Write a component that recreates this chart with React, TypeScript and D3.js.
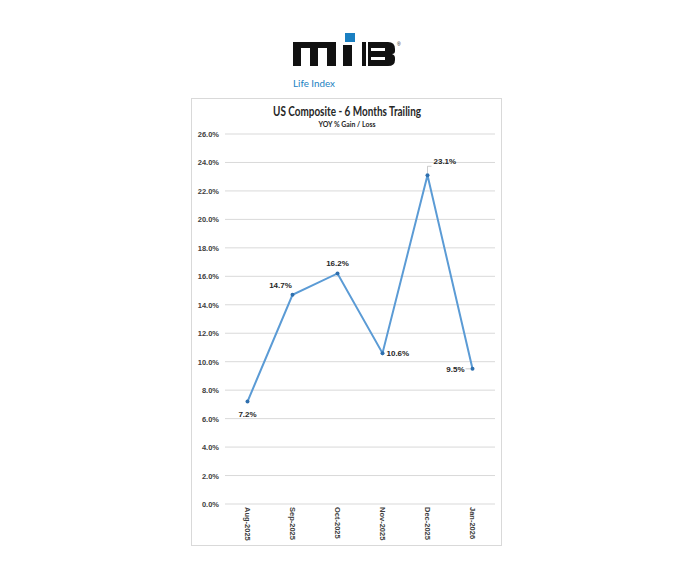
import * as d3 from 'd3';
import React from 'react';

const months = ['Aug-2025', 'Sep-2025', 'Oct-2025', 'Nov-2025', 'Dec-2025', 'Jan-2026'];
const yoyValues = [7.2, 14.7, 16.2, 10.6, 23.1, 9.5];
const yTicks = [0, 2, 4, 6, 8, 10, 12, 14, 16, 18, 20, 22, 24, 26];
// where each data label sits relative to its point
const labelSpots = ['below', 'aboveLeft', 'above', 'right', 'aboveRight', 'left'];

const W = 680;
const H = 582;
const plot = { left: 225, right: 495, top: 134, bottom: 504 };

const LINE_BLUE = '#5b9bd5';
const DOT_BLUE = '#2e6fae';
const GRID = '#d9d9d9';

const Logo = () => (
	<g>
		{/* m */}
		<rect x={293} y={42} width={43} height={6} fill="#111" />
		<rect x={293} y={42} width={8} height={24} fill="#111" />
		<rect x={310} y={45} width={8} height={21} fill="#111" />
		<rect x={327} y={42} width={9} height={24} fill="#111" />
		<rect x={301} y={48} width={4} height={2} fill="#fff" />
		{/* I with blue square */}
		<rect x={343} y={45} width={9} height={21} fill="#111" />
		<rect x={345} y={33} width={10} height={9} fill="#1a7fc1" />
		{/* B */}
		<path
			d="M362,42 H388 Q395,42 395,49 V51 Q395,54 392,54 Q395,55 395,58 V60 Q395,66 388,66 H362 Z"
			fill="#111"
		/>
		<rect x={371} y={48} width={14} height={3} fill="#fff" />
		<rect x={371} y={57} width={14} height={3} fill="#fff" />
		<rect x={366} y={42} width={2} height={24} fill="#fff" />
		<text x={397} y={46} fontSize={5} fill="#111" fontFamily="Liberation Sans">®</text>
		<text x={293} y={87} fontSize={10} fill="#1a7fc1" fontFamily="Lato" textLength={42} lengthAdjust="spacingAndGlyphs">Life Index</text>
	</g>
);

const App = () => {
	const x = d3.scaleBand<string>()
		.domain(months)
		.range([plot.left, plot.right]);

	const y = d3.scaleLinear()
		.domain([0, 26])
		.range([plot.bottom, plot.top]);

	const cx = (m: string) => (x(m) ?? 0) + x.bandwidth() / 2;

	const line = d3.line<number>()
		.x((_, i) => cx(months[i]))
		.y((v) => y(v));

	const fmt = d3.format('.1f');

	return (
		<svg
			width={W}
			height={H}
			style={{ position: 'absolute', left: 0, top: 0, background: '#fff' }}
		>
			<rect x={0} y={0} width={W} height={H} fill="#fff" />
			<Logo />

			<rect x={191.5} y={98.5} width={310} height={447} fill="#fff" stroke={GRID} />

			<text x={347} y={116} textAnchor="middle" fontFamily="Lato" fontWeight="bold" fontSize={12.5} fill="#262626"
				textLength={148} lengthAdjust="spacingAndGlyphs">
				US Composite - 6 Months Trailing
			</text>
			<text x={347} y={127} textAnchor="middle" fontFamily="Lato" fontWeight="bold" fontSize={7.5} fill="#262626"
				textLength={57} lengthAdjust="spacingAndGlyphs">
				YOY % Gain / Loss
			</text>

			{yTicks.map((t) => (
				<g key={t}>
					<line x1={plot.left} x2={plot.right} y1={y(t)} y2={y(t)} stroke={GRID} strokeWidth={1} />
					<text
						x={219}
						y={y(t) + 3}
						textAnchor="end"
						fontFamily="Liberation Sans"
						fontWeight="bold"
						fontSize={7.5}
						fill="#404040"
					>
						{fmt(t)}%
					</text>
				</g>
			))}

			{months.map((m) => (
				<text
					key={m}
					transform={`translate(${cx(m) - 3},${507}) rotate(90)`}
					fontFamily="Liberation Sans"
					fontWeight="bold"
					fontSize={7.5}
					fill="#404040"
				>
					{m}
				</text>
			))}

			<path d={line(yoyValues) ?? ''} fill="none" stroke={LINE_BLUE} strokeWidth={2} />

			{yoyValues.map((v, i) => {
				const px = cx(months[i]);
				const py = y(v);
				const spot = labelSpots[i];
				const label = `${fmt(v)}%`;
				let lx = px;
				let ly = py;
				let anchor: 'start' | 'middle' | 'end' = 'middle';
				let leader: string | null = null;
				if (spot === 'below') { ly = py + 15; }
				else if (spot === 'above') { ly = py - 7; }
				else if (spot === 'aboveLeft') { lx = px - 12; ly = py - 7; anchor = 'middle'; }
				else if (spot === 'right') { lx = px + 4; ly = py + 3; anchor = 'start'; }
				else if (spot === 'aboveRight') {
					lx = px + 6; ly = py - 11; anchor = 'start';
					leader = `M${px},${py - 2} V${py - 9} H${px + 4}`;
				} else if (spot === 'left') {
					lx = px - 8; ly = py + 3; anchor = 'end';
					leader = `M${px - 2},${py} H${px - 7}`;
				}
				return (
					<g key={months[i]}>
						{leader && <path d={leader} fill="none" stroke="#bfbfbf" strokeWidth={0.8} />}
						<circle cx={px} cy={py} r={2} fill={DOT_BLUE} />
						<text
							x={lx}
							y={ly}
							textAnchor={anchor}
							fontFamily="Liberation Sans"
							fontWeight="bold"
							fontSize={8}
							fill="#262626"
						>
							{label}
						</text>
					</g>
				);
			})}
		</svg>
	);
};

export default App;
